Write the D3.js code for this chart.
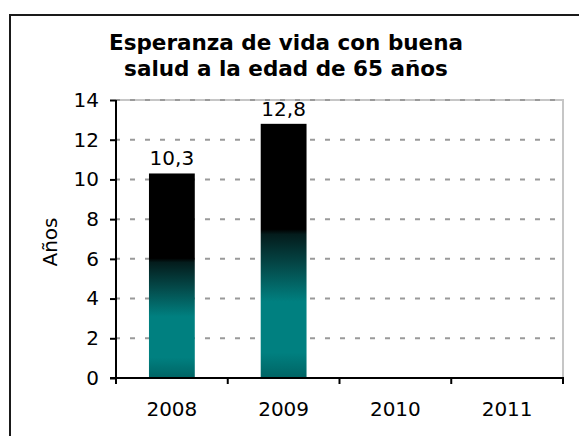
<!DOCTYPE html>
<html>
<head>
<meta charset="utf-8">
<script src="https://cdn.jsdelivr.net/npm/d3@7"></script>
<style>
  body { margin: 0; background: #fff; }
  svg { display: block; font-family: "DejaVu Sans", Verdana, sans-serif; }
</style>
</head>
<body>
<div id="chart"></div>
<script>
// Chart data
const years = ['2008', '2009', '2010', '2011'];
const values = [10.3, 12.8, null, null];
const yTicks = [0, 2, 4, 6, 8, 10, 12, 14];
const titleLines = ['Esperanza de vida con buena', 'salud a la edad de 65 años'];

const width = 579, height = 436;
const margin = { top: 100, right: 16, bottom: 58, left: 116 };
const innerW = width - margin.left - margin.right;
const innerH = height - margin.top - margin.bottom;
const fontSize = 20;

const svg = d3.select('#chart').append('svg')
  .attr('width', width)
  .attr('height', height);

// Bar gradient: black on top, fading to teal towards the bottom
const grad = svg.append('defs').append('linearGradient')
  .attr('id', 'barGrad')
  .attr('x1', 0).attr('y1', 0).attr('x2', 0).attr('y2', 1);
[
  [0, '#000000'], [0.415, '#000000'], [0.435, '#041c1c'],
  [0.56, '#044a4a'], [0.7, '#008080'], [0.9, '#008080'], [1, '#006464']
].forEach(([o, c]) => grad.append('stop').attr('offset', o).attr('stop-color', c));

// Outer frame (runs off the right and bottom edges)
svg.append('rect')
  .attr('x', 10).attr('y', 15)
  .attr('width', width + 20).attr('height', height + 20)
  .attr('fill', 'none')
  .attr('stroke', '#1a1a1a')
  .attr('stroke-width', 2);

// Title
svg.append('text')
  .attr('text-anchor', 'middle')
  .attr('font-weight', 'bold')
  .attr('font-size', 21.5)
  .attr('fill', '#000')
  .selectAll('tspan')
  .data(titleLines)
  .join('tspan')
  .attr('x', 286)
  .attr('y', (d, i) => 50 + i * 26)
  .text(d => d);

const g = svg.append('g')
  .attr('transform', `translate(${margin.left},${margin.top})`);

const x = d3.scaleBand().domain(years).range([0, innerW]).padding(0);
const y = d3.scaleLinear().domain([0, 14]).range([innerH, 0]);

// Plot area border (light gray, top and right)
g.append('path')
  .attr('d', `M0,${y(14)}H${innerW}V${innerH}`)
  .attr('fill', 'none')
  .attr('stroke', '#c6c6c6')
  .attr('stroke-width', 2);

// Dashed gridlines
g.append('g')
  .selectAll('line')
  .data(yTicks.filter(d => d > 0))
  .join('line')
  .attr('x1', 0).attr('x2', innerW)
  .attr('y1', d => y(d)).attr('y2', d => y(d))
  .attr('stroke', '#9a9a9a')
  .attr('stroke-width', 2)
  .attr('stroke-dasharray', '5,10')
  .attr('stroke-dashoffset', 1);

// Bars
const barW = x.bandwidth() * 0.41;
const barData = years.map((d, i) => ({ year: d, value: values[i] })).filter(d => d.value != null);
g.append('g')
  .selectAll('rect')
  .data(barData)
  .join('rect')
  .attr('x', d => x(d.year) + (x.bandwidth() - barW) / 2)
  .attr('y', d => y(d.value))
  .attr('width', barW)
  .attr('height', d => innerH - y(d.value))
  .attr('fill', 'url(#barGrad)');

// Value labels
g.append('g')
  .selectAll('text')
  .data(barData)
  .join('text')
  .attr('x', d => x(d.year) + x.bandwidth() / 2)
  .attr('y', d => y(d.value) - 8)
  .attr('text-anchor', 'middle')
  .attr('font-size', fontSize)
  .attr('fill', '#000')
  .text(d => d3.format('.1f')(d.value).replace('.', ','));

// Y axis
const yAxis = g.append('g')
  .call(d3.axisLeft(y).tickValues(yTicks).tickSize(6).tickPadding(11).tickFormat(d3.format('d')));
yAxis.select('.domain').attr('d', `M0,0V${innerH + 6}`).attr('stroke', '#000').attr('stroke-width', 2);
yAxis.selectAll('.tick line').attr('stroke', '#000').attr('stroke-width', 2);
yAxis.selectAll('.tick text')
  .attr('font-size', fontSize)
  .attr('font-family', '"DejaVu Sans", Verdana, sans-serif')
  .attr('fill', '#000');

// X axis with ticks at category boundaries
const xAxis = g.append('g').attr('transform', `translate(0,${innerH})`);
xAxis.append('line')
  .attr('x1', -6).attr('x2', innerW + 1)
  .attr('stroke', '#000').attr('stroke-width', 2);
xAxis.selectAll('.bound')
  .data(years.map(d => x(d)).concat([innerW]))
  .join('line')
  .attr('class', 'bound')
  .attr('x1', d => d).attr('x2', d => d)
  .attr('y1', 0).attr('y2', 6)
  .attr('stroke', '#000').attr('stroke-width', 2);
xAxis.selectAll('.lbl')
  .data(years)
  .join('text')
  .attr('class', 'lbl')
  .attr('x', d => x(d) + x.bandwidth() / 2)
  .attr('y', 38)
  .attr('text-anchor', 'middle')
  .attr('font-size', fontSize)
  .attr('fill', '#000')
  .text(d => d);

// Y axis title
svg.append('text')
  .attr('transform', 'translate(57,242) rotate(-90)')
  .attr('text-anchor', 'middle')
  .attr('font-size', fontSize)
  .attr('fill', '#000')
  .text('Años');
</script>
</body>
</html>
